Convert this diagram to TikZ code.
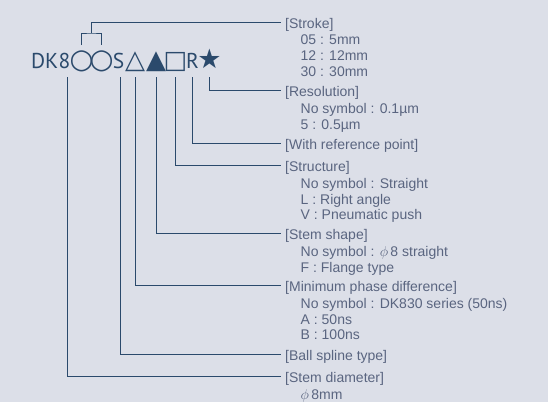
\documentclass[tikz,border=0pt]{standalone}
\usepackage{fontspec}
\setmainfont{Liberation Sans}
\newfontfamily\codefont{PT Sans}
\newfontfamily\symfont{DejaVu Sans}
\usetikzlibrary{positioning,calc}
\definecolor{panelbg}{HTML}{DCDFE8}
\definecolor{navy}{HTML}{2B4A6C}
\definecolor{labelgray}{HTML}{5A6580}
\newcommand{\glyphcell}[2]{\makebox[#1]{#2}}

\begin{document}
\begin{tikzpicture}[x=1pt,y=-1pt,
  every node/.style={inner sep=0pt},
  code/.style={anchor=base, text=navy, font=\codefont\fontsize{21.5}{24}\selectfont},
  sym/.style={anchor=base, text=navy, font=\symfont\fontsize{#1}{24}\selectfont},
  lead/.style={draw=navy, line width=1pt},
  head/.style={anchor=west, inner xsep=4.5pt, text height=13pt, text depth=0pt,
    text=labelgray, font=\fontsize{14}{15.7}\selectfont},
  opts/.style={align=left, text=labelgray, font=\fontsize{14}{15.7}\selectfont}]
\useasboundingbox[fill=panelbg] (0,0) rectangle (548,402);
% model code
\node[code] (n8) at (64.5,68.5) {8};
\node[code, anchor=base east] (dk) at (n8.base west) {DK};
\node[sym=27.5] (c1) at (81.5,68.5) {\glyphcell{18pt}{○}};
\node[sym=27.5] (c2) at (101.5,68.5) {\glyphcell{18pt}{○}};
\node[code] (gs) at (118.5,68.5) {S};
\node[sym=26] (tri) at (135,68.5) {\glyphcell{19pt}{△}};
\node[sym=26] (ftri) at (156,68.5) {\glyphcell{19pt}{▲}};
\node[sym=25] (sq) at (175.5,68.5) {\glyphcell{17pt}{□}};
\node[code] (gr) at (192.5,68.5) {R};
\node[sym=27] (star) at (209.5,68.5) {\glyphcell{17pt}{★}};
\coordinate (brk) at ($(c1.base)!.5!(c2.base)$);
% headings and options
\node[head] (hstroke) at (280.5,22) {[Stroke]};
\node[opts, below right=6.3pt and 20pt of hstroke.south west] {05 : 5mm\\12 : 12mm\\30 : 30mm};
\node[head] (hres) at (280.5,90) {[Resolution]};
\node[opts, below right=6.3pt and 20pt of hres.south west] {No symbol : 0.1µm\\5 : 0.5µm};
\node[head] (href) at (280.5,143) {[With reference point]};
\node[head] (hstruct) at (280.5,165) {[Structure]};
\node[opts, below right=6.3pt and 20pt of hstruct.south west] {No symbol : Straight\\L : Right angle\\V : Pneumatic push};
\node[head] (hshape) at (280.5,233) {[Stem shape]};
\node[opts, below right=6.3pt and 20pt of hshape.south west] {No symbol : $\phi$\,8 straight\\F : Flange type};
\node[head] (hphase) at (280.5,285) {[Minimum phase difference]};
\node[opts, below right=6.3pt and 20pt of hphase.south west] {No symbol : DK830 series (50ns)\\A : 50ns\\B : 100ns};
\node[head] (hball) at (280.5,354) {[Ball spline type]};
\node[head] (hdia) at (280.5,376) {[Stem diameter]};
\node[opts, below right=6.3pt and 20pt of hdia.south west] {$\phi$\,8mm};
% leaders
\draw[lead] ([yshift=23.5pt]c1.base) |- ([yshift=35.5pt]brk) -| ([yshift=23.5pt]c2.base);
\draw[lead] ([yshift=35.5pt]brk) |- (hstroke.west);
\draw[lead] ([yshift=-8.5pt]star.base) |- (hres.west);
\draw[lead] ([yshift=-8.5pt]gr.base) |- (href.west);
\draw[lead] ([yshift=-8.5pt]sq.base) |- (hstruct.west);
\draw[lead] ([yshift=-8.5pt]ftri.base) |- (hshape.west);
\draw[lead] ([yshift=-8.5pt]tri.base) |- (hphase.west);
\draw[lead] ([yshift=-8.5pt,xshift=1.5pt]gs.base) |- (hball.west);
\draw[lead] ([yshift=-8.5pt,xshift=2.5pt]n8.base) |- (hdia.west);
\end{tikzpicture}
\end{document}
